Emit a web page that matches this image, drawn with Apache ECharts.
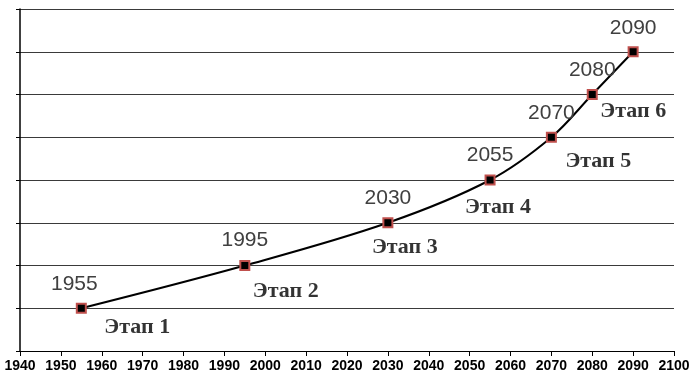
<!DOCTYPE html>
<html><head><meta charset="utf-8">
<script src="https://cdn.jsdelivr.net/npm/echarts@6/dist/echarts.min.js"></script>
<style>html,body{margin:0;padding:0;background:#fff}#c{width:694px;height:385px}</style>
</head><body><div id="c"></div>
<script>
var years = [1955, 1995, 2030, 2055, 2070, 2080, 2090];
var stageValues = [1, 2, 3, 4, 5, 6, 7];
var yearLabels = ['1955', '1995', '2030', '2055', '2070', '2080', '2090'];
var stageLabels = ['Этап 1', 'Этап 2', 'Этап 3', 'Этап 4', 'Этап 5', 'Этап 6', ''];
var xTicks = [1940, 1950, 1960, 1970, 1980, 1990, 2000, 2010, 2020, 2030, 2040, 2050, 2060, 2070, 2080, 2090, 2100];

// label offsets (style only)
var yearOff = [[-7,0],[0,-1],[0,-1],[0,-1],[0,0],[0,0],[0,0]];
var stageOff = [[23,19],[8,26],[-16,25],[-25,27],[14,24],[8,17],[0,0]];

var lineData = years.map(function(y,i){
  return {value:[y, stageValues[i]], label:{offset:yearOff[i]}};
});
var stageData = years.map(function(y,i){
  return {value:[y, stageValues[i]], name: stageLabels[i], label:{offset:stageOff[i]}};
});

var chart = echarts.init(document.getElementById('c'));
chart.setOption({
  animation:false,
  grid:{left:20,right:20,top:9,bottom:34},
  xAxis:{type:'value',min:xTicks[0],max:xTicks[xTicks.length-1],interval:10,
    axisLine:{lineStyle:{color:'#000',width:1}},
    axisTick:{show:true,length:5,lineStyle:{color:'#000'}},
    axisLabel:{fontFamily:'Liberation Sans',fontWeight:'bold',fontSize:14,color:'#000',margin:8,
      formatter:function(v){return String(v);}},
    splitLine:{show:false}},
  yAxis:{type:'value',min:0,max:8,interval:1,
    axisLine:{show:true,lineStyle:{color:'#000',width:1.5}},
    axisTick:{show:true,length:4,lineStyle:{color:'#000'}},
    axisLabel:{show:false},
    splitLine:{show:true,lineStyle:{color:'#3a3a3a',width:1}}},
  series:[
    {type:'line',data:lineData,smooth:0.35,
     lineStyle:{color:'#000',width:2},
     symbol:'rect',symbolSize:9,
     itemStyle:{color:'#000',borderColor:'#c0504d',borderWidth:2},
     label:{show:true,position:'top',distance:8,
       formatter:function(p){return yearLabels[p.dataIndex];},
       fontFamily:'Liberation Sans',fontSize:21,color:'#404040'}},
    {type:'scatter',data:stageData,symbolSize:0,silent:true,
     label:{show:true,position:'inside',align:'left',
       formatter:function(p){return p.name;},
       fontFamily:'Liberation Serif',fontWeight:'bold',fontSize:22,color:'#000'}}
  ]
});
</script></body></html>
